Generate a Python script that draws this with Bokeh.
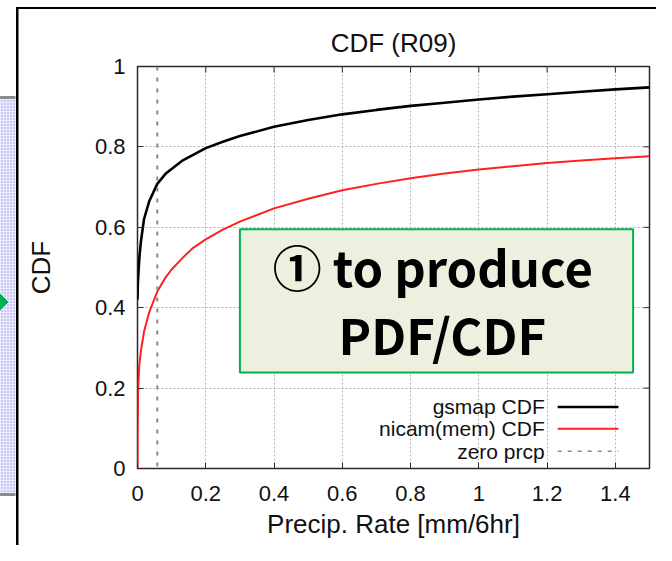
from bokeh.plotting import figure
from bokeh.models import (Range1d, Span, Label, BoxAnnotation,
                          FixedTicker, CustomJSTickFormatter)
from bokeh.embed import file_html
from bokeh.resources import INLINE

# ---------------- data ----------------
gsmap_x = [0.0, 0.001, 0.003, 0.006, 0.01, 0.019, 0.034, 0.058, 0.082, 0.13,
           0.2, 0.25, 0.3, 0.4, 0.5, 0.6, 0.7, 0.8, 0.9, 1.0, 1.1, 1.2, 1.3,
           1.4, 1.5]
gsmap_cdf = [0.42, 0.46, 0.49, 0.53, 0.564, 0.62, 0.664, 0.708, 0.733, 0.765,
             0.797, 0.813, 0.827, 0.850, 0.867, 0.881, 0.892, 0.902, 0.910,
             0.918, 0.925, 0.931, 0.937, 0.943, 0.948]
nicam_x = [0.0, 0.0005, 0.002, 0.005, 0.0096, 0.019, 0.034, 0.058, 0.082, 0.1,
           0.13, 0.16, 0.2, 0.25, 0.3, 0.4, 0.5, 0.6, 0.7, 0.8, 0.9, 1.0, 1.1,
           1.2, 1.3, 1.4, 1.5]
nicam_cdf = [0.0, 0.10, 0.20, 0.255, 0.29, 0.34, 0.388, 0.44, 0.475, 0.495,
             0.522, 0.547, 0.570, 0.594, 0.614, 0.647, 0.671, 0.692, 0.708, 0.722,
             0.734, 0.744, 0.752, 0.760, 0.766, 0.772, 0.777]
zero_prcp = 0.058

x_ticks = [0, 0.2, 0.4, 0.6, 0.8, 1.0, 1.2, 1.4]
y_ticks = [0, 0.2, 0.4, 0.6, 0.8, 1.0]
x_extent = [0, 1.5]
y_extent = [0, 1]

title_text = "CDF (R09)"
x_label = "Precip. Rate [mm/6hr]"
y_label = "CDF"
legend_labels = ["gsmap CDF", "nicam(mem) CDF", "zero prcp"]
note_lines = ["\u2460 to produce", "PDF/CDF"]

# ---------------- layout / style constants ----------------
W, H = 656, 545
FL, FR, FT, FB = 137, 7, 66, 77          # frame borders
FONT = "Liberation Sans"
BORDER = "#2a2a2a"
TXT = "#111111"

p = figure(width=W, height=H, output_backend="svg", toolbar_location=None,
           x_range=Range1d(*x_extent), y_range=Range1d(*y_extent),
           min_border_left=FL, min_border_right=FR, min_border_top=FT,
           min_border_bottom=FB, title=title_text,
           background_fill_color="white")
p.border_fill_alpha = 0.0

# slide decoration around the pasted chart image (page background, CSS)
slide_bg = ", ".join([
    "linear-gradient(to bottom left, transparent 50%, #00b050 50%) 0px 293px / 8px 9px no-repeat",
    "linear-gradient(to top left, transparent 50%, #00b050 50%) 0px 302px / 8px 9px no-repeat",
    "linear-gradient(#000,#000) 15.5px 7px / 100% 2px no-repeat",
    "linear-gradient(#000,#000) 15.5px 7px / 2.5px 100% no-repeat",
    "linear-gradient(#8c8c8c,#8c8c8c) 0px 96px / 15.5px 3px no-repeat",
    "linear-gradient(#8c8c8c,#8c8c8c) 0px 493px / 15.5px 3px no-repeat",
    "repeating-linear-gradient(90deg, rgba(255,255,255,0.55) 0px 1px, transparent 1px 3px) 0px 99px / 15.5px 394px no-repeat",
    "repeating-linear-gradient(0deg, rgba(255,255,255,0.55) 0px 1px, transparent 1px 3px) 0px 99px / 15.5px 394px no-repeat",
    "linear-gradient(#c9c9f6,#c9c9f6) 0px 99px / 15.5px 394px no-repeat",
    "white",
])
p.styles = {"background": slide_bg}

p.outline_line_color = BORDER
p.outline_line_width = 1.5

p.title.align = "center"
p.title.text_font = FONT
p.title.text_font_size = "26px"
p.title.text_font_style = "normal"
p.title.text_color = TXT
p.title.standoff = 17

fmt = CustomJSTickFormatter(code="return Number(tick.toFixed(1)).toString();")

for ax, ticks in ((p.xaxis[0], x_ticks), (p.yaxis[0], y_ticks)):
    ax.ticker = FixedTicker(ticks=ticks)
    ax.formatter = fmt
    ax.major_tick_in = 6
    ax.major_tick_out = 0
    ax.minor_tick_in = 0
    ax.minor_tick_out = 0
    ax.axis_line_color = None
    ax.major_tick_line_color = BORDER
    ax.major_label_text_font = FONT
    ax.major_label_text_font_size = "22px"
    ax.major_label_text_color = TXT
    ax.axis_label_text_font = FONT
    ax.axis_label_text_font_size = "26px"
    ax.axis_label_text_font_style = "normal"
    ax.axis_label_text_color = TXT

p.xaxis[0].axis_label = x_label
p.xaxis[0].major_label_standoff = 17
p.xaxis[0].axis_label_standoff = 5
p.yaxis[0].axis_label = y_label
p.yaxis[0].major_label_standoff = 12
p.yaxis[0].axis_label_standoff = 36

# mirrored tick marks on top and right border (gnuplot style)
frame_w = W - FL - FR
frame_h = H - FT - FB
tick_dx = 6 * (x_extent[1] - x_extent[0]) / frame_w
tick_dy = 6 * (y_extent[1] - y_extent[0]) / frame_h
p.segment(x0=x_ticks, y0=[y_extent[1]] * len(x_ticks), x1=x_ticks,
          y1=[y_extent[1] - tick_dy] * len(x_ticks), line_color=BORDER, line_width=1)
p.segment(x0=[x_extent[1]] * len(y_ticks), y0=y_ticks,
          x1=[x_extent[1] - tick_dx] * len(y_ticks), y1=y_ticks,
          line_color=BORDER, line_width=1)

for g, ticks in ((p.xgrid[0], x_ticks), (p.ygrid[0], y_ticks)):
    g.ticker = FixedTicker(ticks=ticks)
    g.grid_line_color = "#b4b4b4"
    g.grid_line_dash = "2 2"
    g.grid_line_width = 1

# zero precipitation marker
p.add_layout(Span(location=zero_prcp, dimension="height", line_color="#888888",
                  line_width=2, line_dash="4 7"))

# curves
p.line(gsmap_x, gsmap_cdf, line_color="black", line_width=2.6)
p.line(nicam_x, nicam_cdf, line_color="#ff2020", line_width=2)

# legend (gnuplot style: text then sample)
leg_y = [0.153, 0.099, 0.043]
leg_text_x = 1.193
leg_x0, leg_x1 = 1.231, 1.409
leg_styles = [dict(line_color="black", line_width=2.6),
              dict(line_color="#ff2020", line_width=2),
              dict(line_color="#888888", line_width=1.5, line_dash="4 6")]
for lab, ly, st in zip(legend_labels, leg_y, leg_styles):
    p.add_layout(Label(x=leg_text_x, y=ly, text=lab, text_align="right",
                       text_baseline="middle", text_font=FONT,
                       text_font_size="21px", text_color=TXT))
    p.segment(x0=[leg_x0], y0=[ly], x1=[leg_x1], y1=[ly], **st)

# annotation box of the slide
p.add_layout(BoxAnnotation(left=0.30, right=1.452, bottom=0.239, top=0.595,
                           fill_color="#ebf1de", fill_alpha=1.0,
                           line_color="#00b050", line_alpha=1.0, line_width=2,
                           level="overlay"))
note_pos = [(0.865, 0.504), (0.893, 0.335)]
for txt, (nx, ny) in zip(note_lines, note_pos):
    p.add_layout(Label(x=nx, y=ny, text=txt, text_align="center",
                       text_baseline="middle", text_font="Noto Sans CJK JP",
                       text_font_style="bold", text_font_size="49px",
                       text_color="black", level="overlay"))

open("out.html", "w").write(file_html(p, INLINE))
